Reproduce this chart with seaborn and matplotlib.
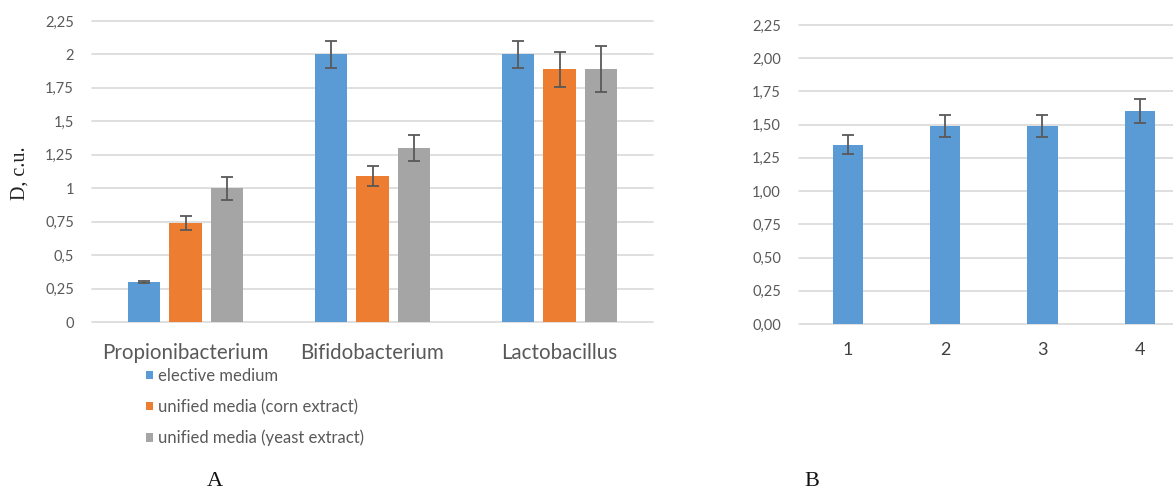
import matplotlib
matplotlib.use("Agg")
import matplotlib.pyplot as plt
import seaborn as sns
import pandas as pd
import numpy as np

# ---- data (panel A) ----
categories = ["Propionibacterium", "Bifidobacterium", "Lactobacillus"]
media = ["elective medium", "unified media (corn extract)", "unified media (yeast extract)"]
elective = [0.30, 2.00, 2.00]
corn = [0.74, 1.09, 1.89]
yeast = [1.00, 1.30, 1.89]
elective_err = [0.01, 0.10, 0.10]
corn_err = [0.05, 0.075, 0.13]
yeast_err = [0.085, 0.10, 0.17]
yticks_a = [0, 0.25, 0.5, 0.75, 1, 1.25, 1.5, 1.75, 2, 2.25]
ylabels_a = ["0", "0,25", "0,5", "0,75", "1", "1,25", "1,5", "1,75", "2", "2,25"]

# ---- data (panel B) ----
samples = ["1", "2", "3", "4"]
values_b = [1.35, 1.49, 1.49, 1.60]
err_b = [0.07, 0.08, 0.08, 0.09]
yticks_b = [0, 0.25, 0.5, 0.75, 1, 1.25, 1.5, 1.75, 2, 2.25]
ylabels_b = ["0,00", "0,25", "0,50", "0,75", "1,00", "1,25", "1,50", "1,75", "2,00", "2,25"]

colors = ["#5B9BD5", "#ED7D31", "#A5A5A5"]
grid_c = "#D9D9D9"
tick_c = "#595959"
err_c = "#595959"

sns.set_theme(style="white")
plt.rcParams["font.family"] = ["Lato", "DejaVu Sans"]

W, H = 1173, 490
fig = plt.figure(figsize=(W / 100, H / 100), dpi=100)

def px_axes(x0, y0, x1, y1):
    return fig.add_axes([x0 / W, 1 - y1 / H, (x1 - x0) / W, (y1 - y0) / H])

# ---------- Panel A ----------
axA = px_axes(92, 21, 653, 322)
rows = []
for vals, m in zip([elective, corn, yeast], media):
    for c, v in zip(categories, vals):
        rows.append({"cat": c, "medium": m, "val": v})
dfA = pd.DataFrame(rows)
sns.barplot(data=dfA, x="cat", y="val", hue="medium", order=categories,
            hue_order=media, palette=colors, saturation=1, width=0.66, gap=0.22,
            errorbar=None, linewidth=0, ax=axA, zorder=2)
for cont, errs in zip(axA.containers, [elective_err, corn_err, yeast_err]):
    xs = [b.get_x() + b.get_width() / 2 for b in cont]
    hs = [b.get_height() for b in cont]
    axA.errorbar(xs, hs, yerr=errs, fmt="none", ecolor=err_c, elinewidth=1.3,
                 capsize=4.3, capthick=1.3, zorder=3)

handles, labels = axA.get_legend_handles_labels()
axA.get_legend().remove()
fig.legend(handles, labels, loc="upper left", bbox_to_anchor=(146 / W, 1 - 368 / H),
           bbox_transform=fig.transFigure, frameon=False, fontsize=12,
           labelcolor=tick_c, handlelength=0.42, handleheight=0.42,
           handletextpad=0.3, labelspacing=0.89, borderpad=0, borderaxespad=0)

axA.set_xlim(-0.5, 2.5)
axA.set_ylim(0, 2.25)
axA.set_yticks(yticks_a)
axA.set_yticklabels(ylabels_a)
axA.set_xlabel("")
axA.set_ylabel("")
axA.yaxis.grid(True, color=grid_c, linewidth=1.2)
axA.set_axisbelow(True)
for gl in axA.get_ygridlines():
    gl.set_clip_on(False)
for s in axA.spines.values():
    s.set_visible(False)
axA.tick_params(axis="y", length=0, pad=13, labelsize=10.5, labelcolor=tick_c)
axA.tick_params(axis="x", length=0, pad=15, labelsize=14.8, labelcolor=tick_c)

fig.text(20 / W, 1 - 173 / H, "D, c.u.", rotation=90, ha="center", va="center",
         fontsize=14.5, family=["Liberation Serif"], color="#222222")
fig.text(215 / W, 1 - 481 / H, "A", ha="center", va="center",
         fontsize=16, family=["Liberation Serif"], color="#111111")

# ---------- Panel B ----------
axB = px_axes(799, 25, 1173, 324)
dfB = pd.DataFrame({"sample": samples, "val": values_b})
sns.barplot(data=dfB, x="sample", y="val", color=colors[0], saturation=1,
            width=0.31, errorbar=None, linewidth=0, ax=axB, zorder=2)
cont = axB.containers[0]
xs = [b.get_x() + b.get_width() / 2 for b in cont]
hs = [b.get_height() for b in cont]
axB.errorbar(xs, hs, yerr=err_b, fmt="none", ecolor=err_c, elinewidth=1.3,
             capsize=4.3, capthick=1.3, zorder=3)
axB.set_xlim(-0.5, 3.34)
axB.set_ylim(0, 2.25)
axB.set_yticks(yticks_b)
axB.set_yticklabels(ylabels_b)
axB.set_xlabel("")
axB.set_ylabel("")
axB.yaxis.grid(True, color=grid_c, linewidth=1.2)
axB.set_axisbelow(True)
for gl in axB.get_ygridlines():
    gl.set_clip_on(False)
for s in axB.spines.values():
    s.set_visible(False)
axB.tick_params(axis="y", length=0, pad=13, labelsize=10.5, labelcolor=tick_c)
axB.tick_params(axis="x", length=0, pad=13, labelsize=13, labelcolor="#404040")

fig.text(812 / W, 1 - 481 / H, "B", ha="center", va="center",
         fontsize=16, family=["Liberation Serif"], color="#111111")

fig.savefig("out.png", dpi=100, facecolor="white")
